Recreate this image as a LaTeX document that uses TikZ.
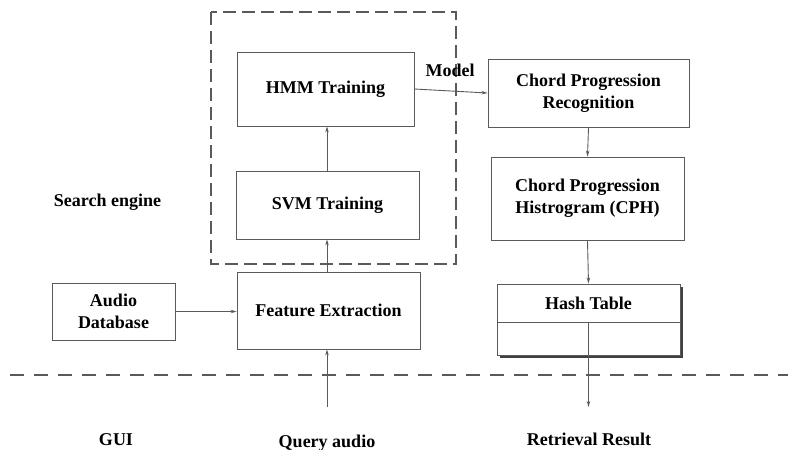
\documentclass[tikz,border=0pt]{standalone}
\usepackage{fontspec}
\setmainfont{Liberation Serif}
\usetikzlibrary{arrows.meta,shadows}
\definecolor{ln}{HTML}{5A5A5A}
\begin{document}
\begin{tikzpicture}[x=1pt,y=-1pt,
  font=\fontsize{18}{22}\selectfont\bfseries,
  boxnode/.style={draw=ln,line width=0.9pt,fill=white,align=center,inner sep=0pt},
  arr/.style={draw=ln,line width=0.9pt,-{Stealth[length=6pt,width=3.5pt]}},
  dashline/.style={draw=ln,line width=1.1pt,dash pattern=on 14pt off 10pt},
  dashframe/.style={draw=ln,line width=1.1pt,dash pattern=on 13pt off 6pt},
  lbl/.style={inner sep=0pt}]
\useasboundingbox (0,0) rectangle (788,450);
% group frame
\coordinate (g1) at (211,12);
\coordinate (g2) at (456,264);
\draw[dashframe] (g1) rectangle (g2);
% nodes
\node[boxnode,minimum width=177pt,minimum height=74pt] (hmm) at (325.5,89) {HMM Training};
\node[boxnode,minimum width=183pt,minimum height=68pt] (svm) at (327.5,205) {SVM Training};
\node[boxnode,minimum width=183pt,minimum height=77pt] (fe) at (328.5,310.5) {Feature Extraction};
\node[boxnode,minimum width=123pt,minimum height=57pt] (ad) at (113.5,311.5) {Audio\\Database};
\node[boxnode,minimum width=201pt,minimum height=68pt] (cpr) at (588.5,93) {Chord Progression\\Recognition};
\node[boxnode,minimum width=193pt,minimum height=83pt] (cph) at (587.5,198.5) {Chord Progression\\Histrogram (CPH)};
\node[boxnode,minimum width=183pt,minimum height=71pt,
  drop shadow={shadow xshift=2.5pt,shadow yshift=-2.5pt,fill=black!75,opacity=1}] (hash) at (588.5,319.5) {};
\coordinate (div) at (hash.west |- 0,322);
\draw[ln,line width=0.9pt] (div) -- (div -| hash.east);
\node[lbl] (hashtxt) at (588.5,303) {Hash Table};
% labels
\node[lbl] (model) at (450,70) {Model};
\node[lbl] (search) at (107.5,202) {Search engine};
\node[lbl] (gui) at (116,440) {GUI};
\node[lbl] (query) at (327,443) {Query audio};
\node[lbl] (result) at (589,439) {Retrieval Result};
% separator
\coordinate (s1) at (10,375);
\coordinate (s2) at (788,375);
\draw[dashline] (s1) -- (s2);
% connectors
\coordinate (qstart) at (327,407);
\coordinate (rend) at (588.5,407);
\draw[arr] (ad.east) -- (ad.east -| fe.west);
\draw[arr] (qstart) -- (qstart |- fe.south);
\draw[arr] (fe.north -| 327,0) -- (svm.south -| 327,0);
\draw[arr] (svm.north -| 327,0) -- (hmm.south -| 327,0);
\draw[arr] (hmm.east) -- (cpr.west);
\draw[arr] (cpr.south) -- (cph.north);
\draw[arr] (cph.south) -- (hash.north);
\draw[arr] (div -| hash.center) -- (rend);
\end{tikzpicture}
\end{document}
